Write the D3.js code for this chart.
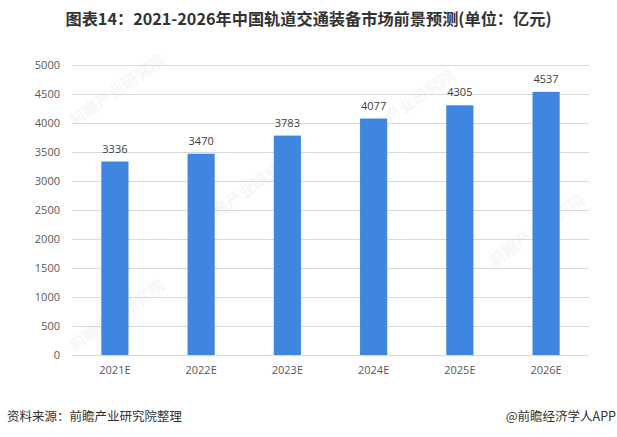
<!DOCTYPE html>
<html>
<head>
<meta charset="utf-8">
<script src="https://cdn.jsdelivr.net/npm/d3@7/dist/d3.min.js"></script>
<style>
  html, body { margin: 0; padding: 0; background: #fff; }
  svg { display: block; font-family: "Microsoft YaHei", "Noto Sans CJK SC", "Open Sans", sans-serif; }
</style>
</head>
<body>
<svg id="chart" width="617" height="437"></svg>
<script>
const categories = ["2021E", "2022E", "2023E", "2024E", "2025E", "2026E"];
const values = [3336, 3470, 3783, 4077, 4305, 4537];
const yTicks = [0, 500, 1000, 1500, 2000, 2500, 3000, 3500, 4000, 4500, 5000];
const titleText = "图表14：2021-2026年中国轨道交通装备市场前景预测(单位：亿元)";
const sourceText = "资料来源：前瞻产业研究院整理";
const brandText = "@前瞻经济学人APP";
const watermarkText = "前瞻产业研究院";

const svg = d3.select("#chart");
const plot = { left: 72, right: 589, top: 65, bottom: 355 };

const x = d3.scaleBand().domain(categories).range([plot.left, plot.right]).paddingInner(0.685).paddingOuter(0.34);
const y = d3.scaleLinear().domain([0, 5000]).range([plot.bottom, plot.top]);

// faint watermarks
const wm = [[120, 95], [410, 110], [250, 195], [540, 235], [120, 320]];
wm.forEach(([cx, cy]) => {
  svg.append("text").attr("x", cx).attr("y", cy)
    .attr("transform", `rotate(-35,${cx},${cy})`)
    .attr("text-anchor", "middle")
    .attr("font-size", 16).attr("font-weight", "bold")
    .attr("fill", "#000").attr("opacity", 0.03)
    .text(watermarkText);
});

// gridlines
svg.append("g").selectAll("line").data(yTicks).join("line")
  .attr("x1", plot.left).attr("x2", plot.right)
  .attr("y1", d => Math.round(y(d)) + 0.5).attr("y2", d => Math.round(y(d)) + 0.5)
  .attr("stroke", "#d9d9d9").attr("stroke-width", 1);

// y axis labels
const yAxis = d3.axisLeft(y).tickValues(yTicks).tickFormat(d3.format("d")).tickSize(0).tickPadding(0);
const gy = svg.append("g").attr("transform", `translate(60,0)`).call(yAxis);
gy.select(".domain").remove();
gy.selectAll("text").attr("font-size", 11).attr("fill", "#595959")
  .attr("font-family", "'Open Sans', 'Noto Sans', sans-serif");

// x axis labels
const xAxis = d3.axisBottom(x).tickSize(0).tickPadding(0);
const gx = svg.append("g").attr("transform", `translate(0,366)`).call(xAxis);
gx.select(".domain").remove();
gx.selectAll("text").attr("font-size", 11).attr("fill", "#595959")
  .attr("font-family", "'Open Sans', 'Noto Sans', sans-serif");

// bars
svg.append("g").selectAll("rect").data(values).join("rect")
  .attr("x", (d, i) => x(categories[i]))
  .attr("width", x.bandwidth())
  .attr("y", d => y(d))
  .attr("height", d => y(0) - y(d))
  .attr("fill", "#3f86e0");

// value labels
svg.append("g").selectAll("text").data(values).join("text")
  .attr("x", (d, i) => x(categories[i]) + x.bandwidth() / 2)
  .attr("y", d => y(d) - 9)
  .attr("text-anchor", "middle")
  .attr("font-size", 11).attr("fill", "#404040")
  .attr("font-family", "'Open Sans', 'Noto Sans', sans-serif")
  .text(d => d);

// title
svg.append("text").attr("x", 308.5).attr("y", 25)
  .attr("text-anchor", "middle")
  .attr("font-size", 16.2).attr("font-weight", "bold").attr("fill", "#333")
  .attr("font-family", "'Noto Sans CJK SC', sans-serif")
  .text(titleText);

// footer
svg.append("text").attr("x", 7).attr("y", 421)
  .attr("font-size", 12.5).attr("fill", "#333")
  .attr("font-family", "'Noto Sans CJK SC', sans-serif")
  .text(sourceText);
svg.append("text").attr("x", 616).attr("y", 421)
  .attr("text-anchor", "end")
  .attr("font-size", 12.5).attr("fill", "#333")
  .attr("font-family", "'Noto Sans CJK SC', sans-serif")
  .text(brandText);
</script>
</body>
</html>
